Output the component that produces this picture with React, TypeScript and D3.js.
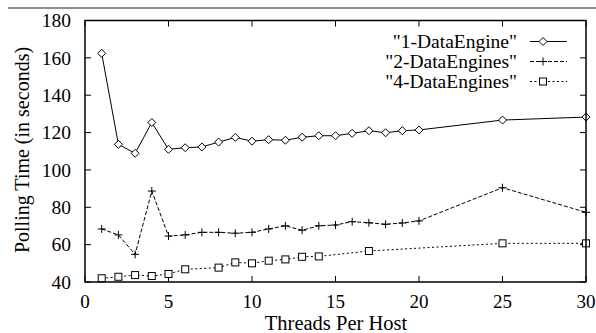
import * as d3 from 'd3'

const threads1 = [1, 2, 3, 4, 5, 6, 7, 8, 9, 10, 11, 12, 13, 14, 15, 16, 17, 18, 19, 20, 25, 30]
const oneEngine = [162.4, 113.7, 108.9, 125.4, 111, 111.9, 112.3, 114.9, 117.4, 115.4, 116.2, 115.9, 117.5, 118.3, 118.3, 119.6, 121, 119.9, 121, 121.4, 126.7, 128.3]
const twoEngines = [68.4, 65.2, 54.8, 88.7, 64.6, 65.2, 66.6, 66.6, 66.1, 66.6, 68.4, 70.1, 67.7, 70.1, 70.5, 72.3, 71.7, 70.9, 71.6, 72.7, 90.5, 77.3]
const threads4 = [1, 2, 3, 4, 5, 6, 8, 9, 10, 11, 12, 13, 14, 17, 25, 30]
const fourEngines = [42, 42.8, 43.7, 43.2, 44.3, 46.8, 47.7, 50.5, 50, 51.4, 52.1, 53.5, 53.7, 56.6, 60.7, 60.7]

const seriesNames = ['"1-DataEngine"', '"2-DataEngines"', '"4-DataEngines"']
const xTicks = [0, 5, 10, 15, 20, 25, 30]
const yTicks = [40, 60, 80, 100, 120, 140, 160, 180]

const W = 596
const H = 333
const FRAME = {left: 85, right: 586, top: 20.5, bottom: 282}
const textStyle = {fontFamily: '"Liberation Serif"'}

type Marker = 'diamond' | 'plus' | 'square'

const MarkerShape = ({x, y, kind}: {x: number; y: number; kind: Marker}) => {
  if (kind === 'diamond') {
    return <path d={`M${x},${y - 4}L${x + 4},${y}L${x},${y + 4}L${x - 4},${y}Z`} fill="white" stroke="black" strokeWidth={1} />
  }
  if (kind === 'plus') {
    return <path d={`M${x - 4},${y}H${x + 4}M${x},${y - 4}V${y + 4}`} stroke="black" strokeWidth={1} />
  }
  return <rect x={x - 3.5} y={y - 3.5} width={7} height={7} fill="white" stroke="black" strokeWidth={1} />
}

export default function App() {
  const xScale = d3.scaleLinear().domain([0, 30]).range([FRAME.left, FRAME.right])
  const yScale = d3.scaleLinear().domain([40, 180]).range([FRAME.bottom, FRAME.top])

  const line = d3
    .line<[number, number]>()
    .x(d => xScale(d[0]))
    .y(d => yScale(d[1]))

  const series = [
    {name: seriesNames[0], xs: threads1, ys: oneEngine, marker: 'diamond' as Marker, dash: undefined},
    {name: seriesNames[1], xs: threads1, ys: twoEngines, marker: 'plus' as Marker, dash: '4,2'},
    {name: seriesNames[2], xs: threads4, ys: fourEngines, marker: 'square' as Marker, dash: '2,2.5'},
  ]

  const tickLen = 6

  return (
    <svg width={W} height={H} style={{position: 'absolute', left: 0, top: 0}}>
      <rect width={W} height={H} fill="white" />
      <line x1={8} x2={W} y1={8} y2={8} stroke="#222" strokeWidth={1} />

      {/* ticks on all four sides, gnuplot style */}
      {yTicks.map(t => (
        <g key={`y${t}`}>
          <line x1={FRAME.left} x2={FRAME.left + tickLen} y1={yScale(t)} y2={yScale(t)} stroke="black" />
          <line x1={FRAME.right} x2={FRAME.right - tickLen} y1={yScale(t)} y2={yScale(t)} stroke="black" />
          <text x={71} y={yScale(t)} dy="0.35em" textAnchor="end" fontSize={19.5} style={textStyle}>
            {t}
          </text>
        </g>
      ))}
      {xTicks.map(t => (
        <g key={`x${t}`}>
          <line x1={xScale(t)} x2={xScale(t)} y1={FRAME.bottom} y2={FRAME.bottom - tickLen} stroke="black" />
          <line x1={xScale(t)} x2={xScale(t)} y1={FRAME.top} y2={FRAME.top + tickLen} stroke="black" />
          <text x={xScale(t)} y={308} textAnchor="middle" fontSize={19} style={textStyle}>
            {t}
          </text>
        </g>
      ))}

      {series.map(s => {
        const pts = s.xs.map((x, i) => [x, s.ys[i]] as [number, number])
        return (
          <g key={s.name}>
            <path d={line(pts) ?? ''} fill="none" stroke="black" strokeWidth={1} strokeDasharray={s.dash} />
            {pts.map((p, i) => (
              <MarkerShape key={i} x={xScale(p[0])} y={yScale(p[1])} kind={s.marker} />
            ))}
          </g>
        )
      })}

      {/* legend */}
      {series.map((s, i) => {
        const y = 41.5 + i * 20
        return (
          <g key={`leg${i}`}>
            <text x={517} y={y} dy="0.35em" textAnchor="end" fontSize={19.5} style={textStyle}>
              {s.name}
            </text>
            <line x1={530} x2={567} y1={y} y2={y} stroke="black" strokeDasharray={s.dash} />
            <MarkerShape x={543} y={y} kind={s.marker} />
          </g>
        )
      })}

      <rect
        x={FRAME.left}
        y={FRAME.top}
        width={FRAME.right - FRAME.left}
        height={FRAME.bottom - FRAME.top}
        fill="none"
        stroke="black"
        strokeWidth={1.5}
      />

      <text x={336} y={330} textAnchor="middle" fontSize={20.5} style={textStyle}>
        Threads Per Host
      </text>
      <text transform={`translate(22,150) rotate(-90)`} textAnchor="middle" dy="0.35em" fontSize={20} style={textStyle}>
        Polling Time (in seconds)
      </text>
    </svg>
  )
}
